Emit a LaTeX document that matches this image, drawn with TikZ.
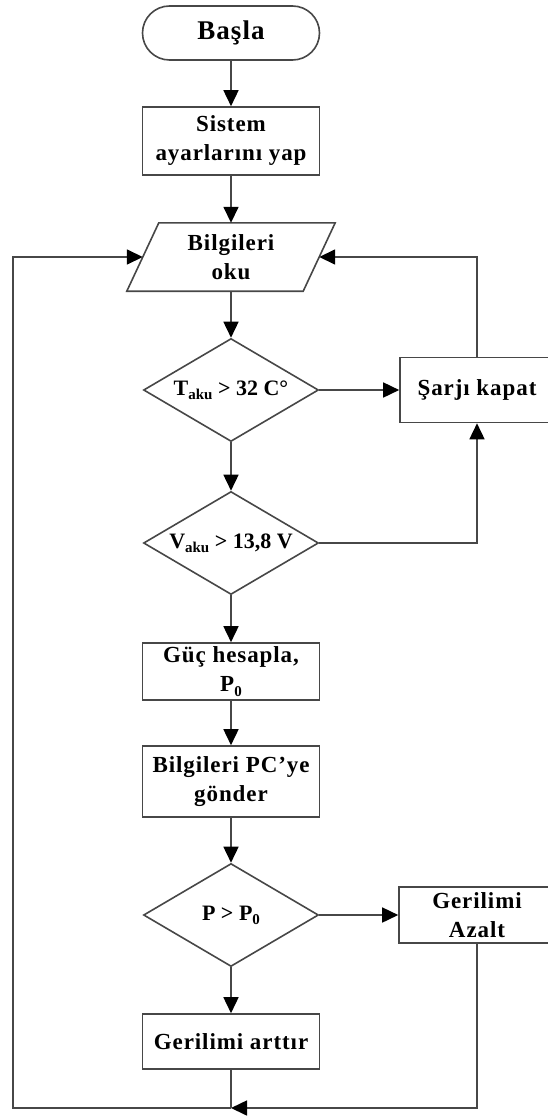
\documentclass[tikz,border=0pt]{standalone}
\usepackage{fontspec}
\setmainfont{Liberation Serif}
\newfontfamily\spacedserif[LetterSpace=4]{Liberation Serif}
\usetikzlibrary{arrows.meta, shapes.geometric}

\newcommand{\boxfont}{\spacedserif\fontsize{23}{29}\selectfont\bfseries}
\newcommand{\testfont}{\fontsize{22}{26}\selectfont\bfseries}
\newcommand{\lowidx}[1]{\raisebox{-0.4ex}{\fontsize{15}{15}\selectfont #1}}

\begin{document}
\begin{tikzpicture}[x=1pt, y=-1pt,
    line/.style={line width=1.6pt, draw=black!72},
    arrow/.style={line, -{Triangle[length=16pt, width=15pt, color=black]}},
    box/.style={line, rectangle, minimum width=177pt, inner sep=0pt, align=center, font=\boxfont},
    decision/.style={line, diamond, aspect=1.7, minimum width=175pt, minimum height=103pt, inner sep=0pt, font=\testfont}]

  \useasboundingbox (0,0) rectangle (547,1118);

  % Start and setup
  \node[box, rounded corners=27pt, minimum height=54pt, font=\spacedserif\fontsize{27}{30}\selectfont\bfseries] (start) at (231,33) {Başla};
  \node[box, minimum height=68pt] (setup) at (231,141) {Sistem\\ayarlarını yap};

  % Read data (parallelogram drawn around the node)
  \node[rectangle, minimum width=176pt, minimum height=68pt, inner sep=0pt, align=center, font=\boxfont] (read) at (231,257) {Bilgileri\\oku};
  \draw[line] ([xshift=16pt]read.north west) -- ([xshift=16pt]read.north east)
    -- ([xshift=-16pt]read.south east) -- ([xshift=-16pt]read.south west) -- cycle;

  % Battery checks
  \node[decision] (tcheck) at (231,390) {T\lowidx{aku} > 32 C°};
  \node[decision] (vcheck) at (231,543) {V\lowidx{aku} > 13,8 V};
  \node[box, minimum width=154pt, minimum height=65pt] (stop) at (477,390) {Şarjı kapat};

  % Power and sending
  \node[box, minimum height=57pt] (calc) at (231,671.5) {Güç hesapla,\\P\lowidx{0}};
  \node[box, minimum height=71pt] (send) at (231,781.5) {Bilgileri PC’ye\\gönder};

  % Voltage decision
  \node[decision] (pcheck) at (231,915) {P > P\lowidx{0}};
  \node[box, minimum width=156pt, minimum height=56pt] (dec) at (477,915) {Gerilimi\\Azalt};
  \node[box, minimum height=55pt] (inc) at (231,1041.5) {Gerilimi arttır};

  \coordinate (join) at (231,1108);
  \coordinate (left) at (13,1108);

  % Connectors
  \draw[arrow] (start) -- (setup);
  \draw[arrow] (setup) -- (read);
  \draw[arrow] (read) -- (tcheck);
  \draw[arrow] (tcheck) -- (vcheck);
  \draw[arrow] (tcheck) -- (stop);
  \draw[arrow] (stop.north) |- (read.east);
  \draw[arrow] (vcheck.east) -| (stop.south);
  \draw[arrow] (vcheck) -- (calc);
  \draw[arrow] (calc) -- (send);
  \draw[arrow] (send) -- (pcheck);
  \draw[arrow] (pcheck) -- (dec);
  \draw[arrow] (pcheck) -- (inc);
  \draw[arrow] (dec.south) |- (join);
  \draw[line] (inc.south) -- (join);
  \draw[arrow] (join) -- (left) |- (read.west);

\end{tikzpicture}
\end{document}
